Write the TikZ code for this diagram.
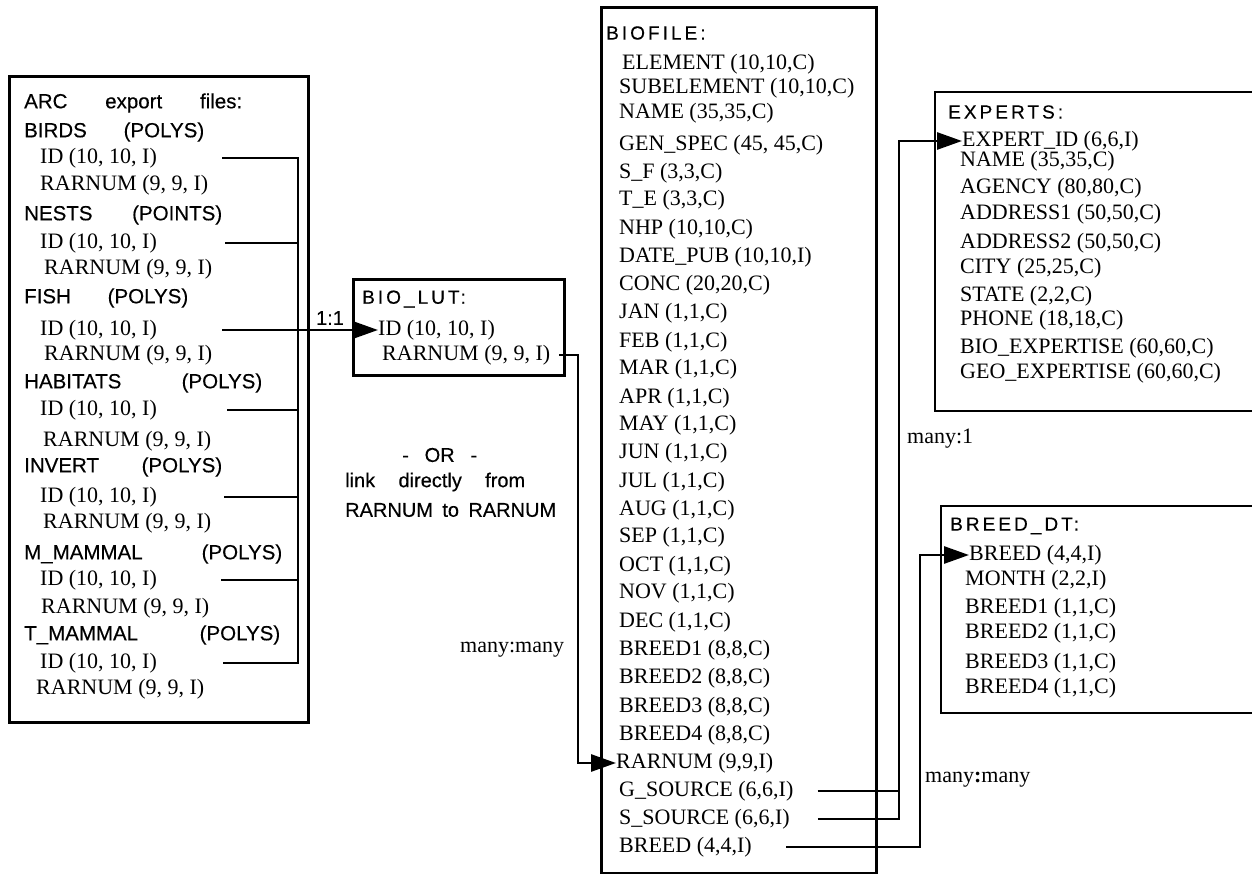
\documentclass[tikz,border=0pt]{standalone}
\usepackage{fontspec}
\setmainfont{Liberation Serif}
\newfontfamily\sansf[FakeBold=0.35]{Liberation Sans}
\newfontfamily\ttlf[LetterSpace=16,FakeBold=0.35]{Liberation Sans}
\usetikzlibrary{arrows.meta}
\tikzset{
  boxline/.style={draw, line width=2.8pt, inner sep=0pt, anchor=north west},
  conn/.style={line width=2.8pt},
  arr/.style={conn, -{Triangle[length=25pt,width=17pt]}},
  fld/.style={anchor=west, inner sep=0pt, font=\fontsize{22}{24}\selectfont},
  grp/.style={anchor=west, inner sep=0pt, font=\sansf\fontsize{20.5}{22}\selectfont},
  ttl/.style={anchor=west, inner sep=0pt, font=\ttlf\fontsize{19}{21}\selectfont},
  note/.style={anchor=west, inner sep=0pt, font=\sansf\fontsize{20}{22}\selectfont},
  lbl/.style={anchor=west, inner sep=0pt, font=\fontsize{22}{24}\selectfont},
}
\begin{document}
\begin{tikzpicture}[x=1pt,y=-1pt]
\useasboundingbox (0,0) rectangle (1252,874);

% ---------- left box: ARC export files ----------
\node[boxline, minimum width=299pt, minimum height=646pt] (arc) at (8,75) {};
\node[grp] (arch) at (24,103) {\makebox[218pt][s]{ARC export files:}};
\node[grp] (birds) at (24,132) {\makebox[180pt][s]{BIRDS (POLYS)}};
\node[fld] (birdsid) at (40,158) {ID (10, 10, I)};
\node[fld] (birdsrar) at (40,185) {RARNUM (9, 9, I)};
\node[grp] (nests) at (24,215) {\makebox[198pt][s]{NESTS (POINTS)}};
\node[fld] (nestsid) at (40,243) {ID (10, 10, I)};
\node[fld] (nestsrar) at (44,269) {RARNUM (9, 9, I)};
\node[grp] (fish) at (24,298) {\makebox[164pt][s]{FISH (POLYS)}};
\node[fld] (fishid) at (40,330) {ID (10, 10, I)};
\node[fld] (fishrar) at (44,355) {RARNUM (9, 9, I)};
\node[grp] (hab) at (24,383) {\makebox[238pt][s]{HABITATS (POLYS)}};
\node[fld] (habid) at (40,410) {ID (10, 10, I)};
\node[fld] (habrar) at (43,441) {RARNUM (9, 9, I)};
\node[grp] (inv) at (24,467) {\makebox[198pt][s]{INVERT (POLYS)}};
\node[fld] (invid) at (40,497) {ID (10, 10, I)};
\node[fld] (invrar) at (43,523) {RARNUM (9, 9, I)};
\node[grp] (mm) at (24,554) {\makebox[258pt][s]{M\_MAMMAL (POLYS)}};
\node[fld] (mmid) at (40,580) {ID (10, 10, I)};
\node[fld] (mmrar) at (41,608) {RARNUM (9, 9, I)};
\node[grp] (tm) at (24,635) {\makebox[256pt][s]{T\_MAMMAL (POLYS)}};
\node[fld] (tmid) at (40,663) {ID (10, 10, I)};
\node[fld] (tmrar) at (36,689) {RARNUM (9, 9, I)};

\coordinate (busT) at (298,158);
\coordinate (busB) at (298,663);
\draw[conn] ([xshift=65pt]birdsid.east) -- (busT) -- (busB) -- ([xshift=66pt]tmid.east);
\draw[conn] ([xshift=68pt]nestsid.east) -- (nestsid.east -| busT);
\draw[conn] ([xshift=70pt]habid.east) -- (habid.east -| busT);
\draw[conn] ([xshift=67pt]invid.east) -- (invid.east -| busT);
\draw[conn] ([xshift=64pt]mmid.east) -- (mmid.east -| busT);

% ---------- BIO_LUT ----------
\node[boxline, minimum width=211pt, minimum height=96pt] (lut) at (352,278) {};
\node[ttl] (luttitle) at (362,299) {BIO\_LUT:};
\node[fld] (lutid) at (378,330) {ID (10, 10, I)};
\node[fld] (lutrar) at (382,355) {RARNUM (9, 9, I)};
\draw[arr] ([xshift=65pt]fishid.east) -- (lutid.west);
\node[note, anchor=center] (one) at (330,318) {1:1};

\node[note] (or) at (402,455) {\makebox[75pt][s]{- OR -}};
\node[note] (link1) at (345,482) {\makebox[180pt][s]{link directly from}};
\node[note] (link2) at (345,510) {\makebox[211pt][s]{RARNUM to RARNUM}};
\node[lbl] (mmlbl) at (460,650) {many:many};

% ---------- BIOFILE ----------
\node[boxline, minimum width=275pt, minimum height=866pt] (bio) at (600,6) {};
\node[ttl] (biotitle) at (606,33) {BIOFILE:};
\node[fld] (b1) at (622,64) {ELEMENT (10,10,C)};
\node[fld] (b2) at (619,88) {SUBELEMENT (10,10,C)};
\node[fld] (b3) at (619,113) {NAME (35,35,C)};
\node[fld] (b4) at (619,145) {GEN\_SPEC (45, 45,C)};
\node[fld] (b5) at (619,173) {S\_F (3,3,C)};
\node[fld] (b6) at (619,200) {T\_E (3,3,C)};
\node[fld] (b7) at (619,229) {NHP (10,10,C)};
\node[fld] (b8) at (619,257) {DATE\_PUB (10,10,I)};
\node[fld] (b9) at (619,285) {CONC (20,20,C)};
\node[fld] (b10) at (619,313) {JAN (1,1,C)};
\node[fld] (b11) at (619,342) {FEB (1,1,C)};
\node[fld] (b12) at (619,369) {MAR (1,1,C)};
\node[fld] (b13) at (619,398) {APR (1,1,C)};
\node[fld] (b14) at (619,425) {MAY (1,1,C)};
\node[fld] (b15) at (619,453) {JUN (1,1,C)};
\node[fld] (b16) at (619,482) {JUL (1,1,C)};
\node[fld] (b17) at (619,510) {AUG (1,1,C)};
\node[fld] (b18) at (619,537) {SEP (1,1,C)};
\node[fld] (b19) at (619,566) {OCT (1,1,C)};
\node[fld] (b20) at (619,593) {NOV (1,1,C)};
\node[fld] (b21) at (619,622) {DEC (1,1,C)};
\node[fld] (b22) at (619,650) {BREED1 (8,8,C)};
\node[fld] (b23) at (619,678) {BREED2 (8,8,C)};
\node[fld] (b24) at (619,707) {BREED3 (8,8,C)};
\node[fld] (b25) at (619,735) {BREED4 (8,8,C)};
\node[fld] (biorar) at (616,763) {RARNUM (9,9,I)};
\node[fld] (gsrc) at (619,791) {G\_SOURCE (6,6,I)};
\node[fld] (ssrc) at (619,819) {S\_SOURCE (6,6,I)};
\node[fld] (brd) at (619,847) {BREED (4,4,I)};

\coordinate (busR) at (578,763);
\draw[arr] ([xshift=9pt]lutrar.east) -| (busR) -- (biorar.west);

% ---------- EXPERTS ----------
\draw[line width=2.8pt] (1262,92) -| (935,411) -- (1262,411);
\node[ttl] (exptitle) at (948,112) {EXPERTS:};
\node[fld] (expid) at (962,141) {EXPERT\_ID (6,6,I)};
\node[fld] (e2) at (960,161) {NAME (35,35,C)};
\node[fld] (e3) at (960,188) {AGENCY (80,80,C)};
\node[fld] (e4) at (960,214) {ADDRESS1 (50,50,C)};
\node[fld] (e5) at (960,243) {ADDRESS2 (50,50,C)};
\node[fld] (e6) at (960,268) {CITY (25,25,C)};
\node[fld] (e7) at (960,296) {STATE (2,2,C)};
\node[fld] (e8) at (960,320) {PHONE (18,18,C)};
\node[fld] (e9) at (960,348) {BIO\_EXPERTISE (60,60,C)};
\node[fld] (e10) at (960,373) {GEO\_EXPERTISE (60,60,C)};
\node[lbl] (m1lbl) at (907,439) {many:1};

\coordinate (eb) at (899,141);
\draw[arr] ([xshift=24pt]gsrc.east) -| (eb) -- (expid.west);
\draw[conn] ([xshift=28pt]ssrc.east) -| (eb);

% ---------- BREED_DT ----------
\draw[line width=2.8pt] (1262,506) -| (941,713) -- (1262,713);
\node[ttl] (dttitle) at (950,526) {BREED\_DT:};
\node[fld] (dtbreed) at (969,555) {BREED (4,4,I)};
\node[fld] (d2) at (965,580) {MONTH (2,2,I)};
\node[fld] (d3) at (965,608) {BREED1 (1,1,C)};
\node[fld] (d4) at (965,633) {BREED2 (1,1,C)};
\node[fld] (d5) at (965,663) {BREED3 (1,1,C)};
\node[fld] (d6) at (965,688) {BREED4 (1,1,C)};
\node[lbl] (mm2lbl) at (925,780) {many\textbf{:}many};

\coordinate (bb) at (920,555);
\draw[arr] ([xshift=34pt]brd.east) -| (bb) -- (dtbreed.west);
\end{tikzpicture}
\end{document}
